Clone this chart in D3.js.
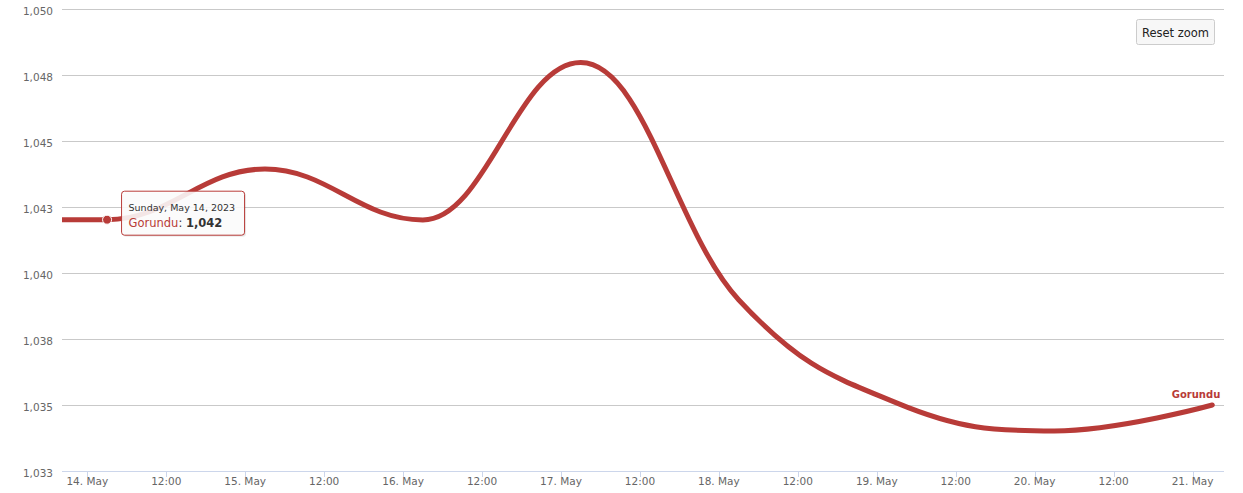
<!DOCTYPE html>
<html>
<head>
<meta charset="utf-8">
<script src="https://cdn.jsdelivr.net/npm/d3@7"></script>
<style>
  html, body { margin: 0; padding: 0; background: #fff; }
  svg { display: block; font-family: "DejaVu Sans", "Lucida Grande", Arial, sans-serif; }
</style>
</head>
<body>
<svg id="chart" width="1243" height="493"></svg>
<script>
// ---- data ----
const seriesName = "Gorundu";
const dates = [
  "2023-05-13T03:00:00Z", "2023-05-14T03:00:00Z", "2023-05-15T03:00:00Z",
  "2023-05-16T03:00:00Z", "2023-05-17T03:00:00Z", "2023-05-18T03:00:00Z",
  "2023-05-19T03:00:00Z", "2023-05-20T03:00:00Z", "2023-05-21T03:00:00Z"
];
const values = [1042.0, 1042.0, 1043.92, 1041.99, 1047.95, 1038.97, 1035.06, 1034.0, 1034.98];
const yTicks = [1032.5, 1035, 1037.5, 1040, 1042.5, 1045, 1047.5, 1050];
const tooltipIndex = 1;

// ---- layout ----
const W = 1243, H = 493;
const plot = { left: 62, right: 1224, top: 8.5, bottom: 470.5 };
const color = "#b83b38";

const svg = d3.select("#chart");
const x = d3.scaleUtc()
  .domain([new Date(Date.UTC(2023, 4, 13, 20, 9)), new Date(Date.UTC(2023, 4, 21, 4, 47))])
  .range([plot.left, plot.right]);
const y = d3.scaleLinear().domain([1032.5, 1050]).range([plot.bottom, plot.top]);

const data = dates.map((d, i) => ({ t: new Date(d), v: values[i] }));

// grid lines
const fmtY = d3.format(",.0f");
svg.append("g").selectAll("line").data(yTicks).join("line")
  .attr("x1", plot.left).attr("x2", plot.right)
  .attr("y1", d => Math.round(y(d)) + 0.5).attr("y2", d => Math.round(y(d)) + 0.5)
  .attr("stroke", "#c9c9c9").attr("stroke-width", 1);

svg.append("g").selectAll("text").data(yTicks).join("text")
  .attr("x", 53).attr("y", d => Math.round(y(d)) + 5.5)
  .attr("text-anchor", "end").attr("font-size", "10.5px").attr("fill", "#666")
  .text(d => fmtY(d));

// x axis
const xTicks = x.ticks(d3.utcHour.every(12));
const fmtDay = d3.utcFormat("%-d. %b"), fmtHour = d3.utcFormat("%H:%M");
const xa = svg.append("g");
xa.append("line").attr("x1", plot.left).attr("x2", plot.right)
  .attr("y1", 471.5).attr("y2", 471.5).attr("stroke", "#ccd6eb");
xa.selectAll("line.tick").data(xTicks).join("line").attr("class", "tick")
  .attr("x1", d => Math.round(x(d)) + 0.5).attr("x2", d => Math.round(x(d)) + 0.5)
  .attr("y1", 471).attr("y2", 477).attr("stroke", "#ccd6eb");
xa.selectAll("text").data(xTicks).join("text")
  .attr("x", d => x(d)).attr("y", 485)
  .attr("text-anchor", "middle").attr("font-size", "10.5px").attr("fill", "#666")
  .text(d => d.getUTCHours() === 0 ? fmtDay(d) : fmtHour(d));

// Highcharts-like spline path
function splinePath(pts) {
  const p = d3.path();
  const smoothing = 1.5, denom = smoothing + 1;
  const ctrl = pts.map((pt, i) => {
    const last = pts[i - 1], next = pts[i + 1];
    let lx = pt.x, ly = pt.y, rx = pt.x, ry = pt.y;
    if (last && next) {
      lx = (smoothing * pt.x + last.x) / denom; ly = (smoothing * pt.y + last.y) / denom;
      rx = (smoothing * pt.x + next.x) / denom; ry = (smoothing * pt.y + next.y) / denom;
      let corr = 0;
      if (rx !== lx) corr = ((ry - ly) * (rx - pt.x)) / (rx - lx) + pt.y - ry;
      ly += corr; ry += corr;
      if (ly > last.y && ly > pt.y) { ly = Math.max(last.y, pt.y); ry = 2 * pt.y - ly; }
      else if (ly < last.y && ly < pt.y) { ly = Math.min(last.y, pt.y); ry = 2 * pt.y - ly; }
      if (ry > next.y && ry > pt.y) { ry = Math.max(next.y, pt.y); ly = 2 * pt.y - ry; }
      else if (ry < next.y && ry < pt.y) { ry = Math.min(next.y, pt.y); ly = 2 * pt.y - ry; }
    }
    return { lx, ly, rx, ry };
  });
  pts.forEach((pt, i) => {
    if (i === 0) p.moveTo(pt.x, pt.y);
    else p.bezierCurveTo(ctrl[i - 1].rx, ctrl[i - 1].ry, ctrl[i].lx, ctrl[i].ly, pt.x, pt.y);
  });
  return p.toString();
}

svg.append("clipPath").attr("id", "clip").append("rect")
  .attr("x", plot.left).attr("y", 0).attr("width", plot.right - plot.left).attr("height", plot.bottom + 5);

const pts = data.map(d => ({ x: x(d.t), y: y(d.v) }));
svg.append("path").attr("clip-path", "url(#clip)")
  .attr("d", splinePath(pts))
  .attr("fill", "none").attr("stroke", color).attr("stroke-width", 5)
  .attr("stroke-linecap", "round").attr("stroke-linejoin", "round");

// hover marker
const tp = data[tooltipIndex];
svg.append("circle").attr("cx", x(tp.t)).attr("cy", y(tp.v)).attr("r", 4.5)
  .attr("fill", color).attr("stroke", "#fff").attr("stroke-width", 1);

// end label
const lp = data[data.length - 1];
svg.append("text").attr("x", x(lp.t) + 8).attr("y", y(lp.v) - 7)
  .attr("text-anchor", "end").attr("font-size", "10px").attr("font-weight", "bold")
  .attr("fill", color).text(seriesName);

// tooltip
const tx = x(tp.t) + 14, ty = y(tp.v) - 29;
const tg = svg.append("g").attr("transform", `translate(${tx},${ty})`);
tg.append("rect").attr("x", 2).attr("y", 2).attr("width", 123).attr("height", 44).attr("rx", 3)
  .attr("fill", "rgba(0,0,0,0.08)");
tg.append("rect").attr("x", 1).attr("y", 1).attr("width", 123).attr("height", 44).attr("rx", 3)
  .attr("fill", "rgba(0,0,0,0.06)");
tg.append("rect").attr("x", 0.5).attr("y", 0.5).attr("width", 123).attr("height", 44).attr("rx", 3)
  .attr("fill", "rgba(255,255,255,0.88)").attr("stroke", color).attr("stroke-width", 1);
const fmtDate = d3.utcFormat("%A, %B %-d, %Y");
tg.append("text").attr("x", 7.5).attr("y", 20).attr("font-size", "9.5px").attr("fill", "#333")
  .text(fmtDate(tp.t));
const t2 = tg.append("text").attr("x", 7.5).attr("y", 36).attr("font-size", "11.5px").attr("fill", "#333");
t2.append("tspan").attr("fill", color).text(seriesName);
t2.append("tspan").text(": ");
t2.append("tspan").attr("font-weight", "bold").text(fmtY(tp.v));

// reset zoom button
const bg = svg.append("g").attr("transform", "translate(1136.5,19.5)");
bg.append("rect").attr("width", 78).attr("height", 25).attr("rx", 2)
  .attr("fill", "#f7f7f7").attr("stroke", "#cccccc");
bg.append("text").attr("x", 39).attr("y", 17).attr("text-anchor", "middle")
  .attr("font-size", "11.5px").attr("fill", "#222").text("Reset zoom");
</script>
</body>
</html>
